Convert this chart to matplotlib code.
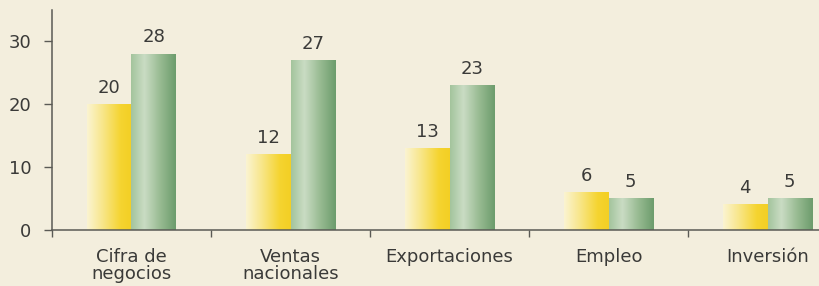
import numpy as np
import matplotlib.pyplot as plt
from matplotlib.colors import LinearSegmentedColormap

categories = ["Cifra de\nnegocios", "Ventas\nnacionales", "Exportaciones", "Empleo", "Inversión"]
yellow_vals = [20, 12, 13, 6, 4]
green_vals = [28, 27, 23, 5, 5]

plt.rcParams["font.family"] = ["DejaVu Sans"]

bg = "#f3eedd"
axis_col = "#5a5a55"
text_col = "#3a3a38"

yellow_cmap = LinearSegmentedColormap.from_list(
    "yel", [(0.0, "#fbf4d2"), (0.35, "#f8e68a"), (0.75, "#f5d430"), (1.0, "#f3cf24")])
green_cmap = LinearSegmentedColormap.from_list(
    "grn", [(0.0, "#a3c49c"), (0.3, "#cadcc4"), (0.65, "#98bb92"), (1.0, "#6c9c6c")])

fig = plt.figure(figsize=(8.2, 2.86), dpi=100, facecolor=bg)
ax = fig.add_axes([0.0634, 0.196, 0.9366, 0.769])
ax.set_facecolor(bg)

width = 0.28
x = np.arange(len(categories))
grad = np.linspace(0, 1, 256).reshape(1, -1)


def gradient_bars(xs, vals, cmap):
    for xi, v in zip(xs, vals):
        ax.imshow(grad, cmap=cmap, extent=[xi - width / 2, xi + width / 2, 0, v],
                  aspect="auto", origin="lower", zorder=2, interpolation="bicubic")
        ax.text(xi, v + 1.2, str(v), ha="center", va="bottom", fontsize=13, color=text_col)


gradient_bars(x - width / 2, yellow_vals, yellow_cmap)
gradient_bars(x + width / 2, green_vals, green_cmap)

ax.set_xlim(-0.5, 4.33)
ax.set_ylim(0, 35)

ax.set_yticks([0, 10, 20, 30])
ax.tick_params(axis="y", direction="out", length=6, width=1, color=axis_col,
               labelsize=13, labelcolor=text_col, pad=9)

ax.set_xticks(x)
ax.set_xticklabels(categories, fontsize=13, color=text_col, linespacing=0.9)
ax.tick_params(axis="x", length=0, pad=13)
ax.set_xticks(np.arange(-0.5, 4.5, 1.0), minor=True)
ax.tick_params(axis="x", which="minor", direction="out", length=5, width=1, color=axis_col)

for s in ["top", "right"]:
    ax.spines[s].set_visible(False)
for s in ["left", "bottom"]:
    ax.spines[s].set_color(axis_col)
    ax.spines[s].set_linewidth(1.1)

fig.savefig("out.png", dpi=100, facecolor=bg)
